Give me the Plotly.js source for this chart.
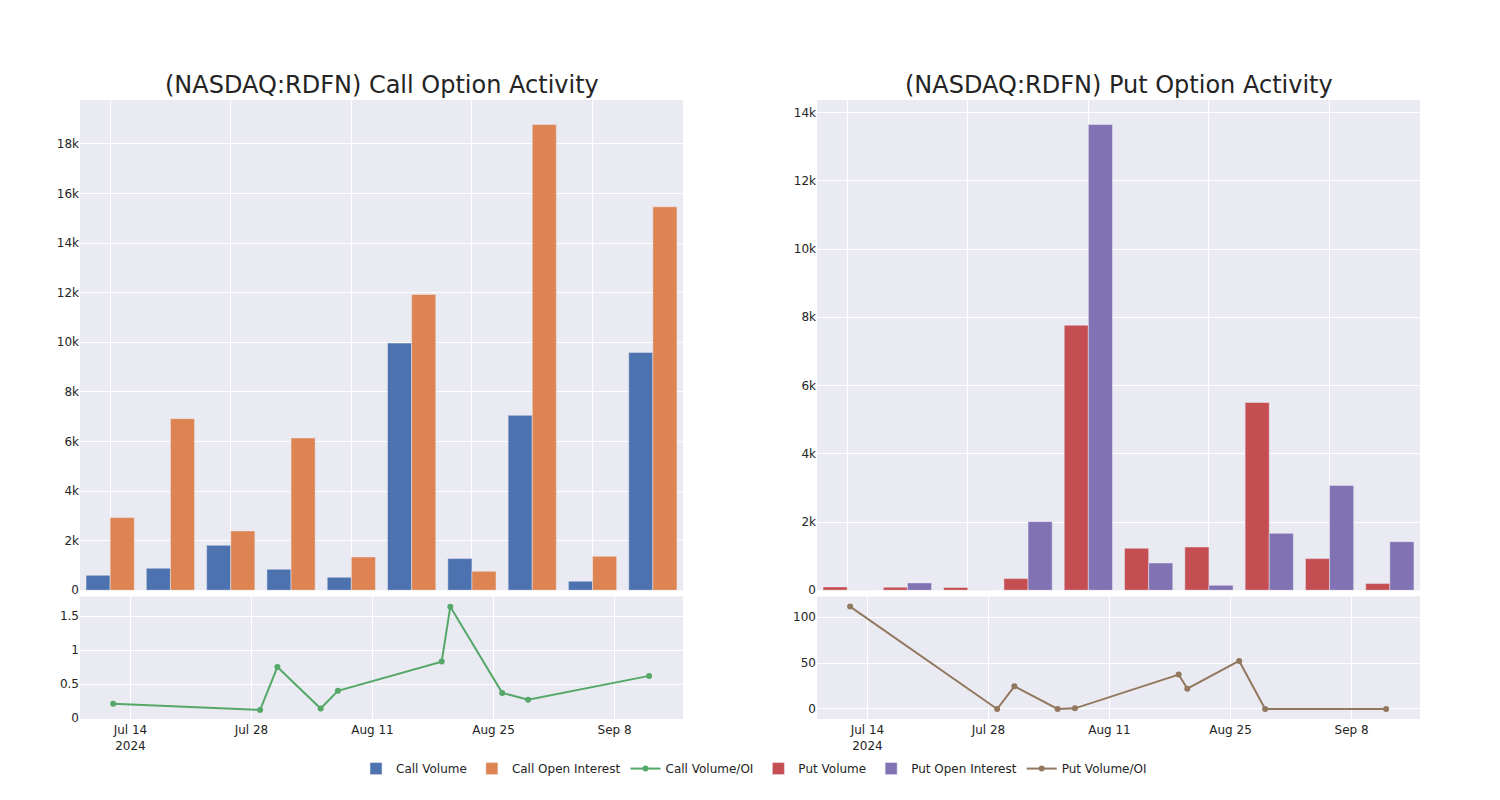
<!DOCTYPE html>
<html>
<head>
<meta charset="utf-8">
<script src="https://cdn.plot.ly/plotly-3.0.1.min.js"></script>
<style>html,body{margin:0;padding:0;background:#fff;}#chart{width:1500px;height:800px;}</style>
</head>
<body>
<div id="chart"></div>
<script>
// ---- data ----
const dates = ["2024-07-12","2024-07-29","2024-07-31","2024-08-05","2024-08-07","2024-08-19","2024-08-20","2024-08-26","2024-08-29","2024-09-12"];
const callVolume = [604, 887, 1813, 846, 524, 9966, 1276, 7052, 363, 9590];
const callOpenInterest = [2928, 6917, 2391, 6138, 1343, 11927, 766, 18777, 1370, 15460];
const callVolOI = [0.21, 0.12, 0.75, 0.14, 0.40, 0.83, 1.637, 0.37, 0.27, 0.62];
const putVolume = [98, 90, 80, 341, 7766, 1229, 1268, 5502, 927, 195];
const putOpenInterest = [1, 215, 0, 2010, 13649, 800, 146, 1668, 3073, 1424];
const putVolOI = [111.6, 0, 24.7, 0, 0.7, 37.5, 22.2, 52.4, 0, 0];
const titles = ["(NASDAQ:RDFN) Call Option Activity", "(NASDAQ:RDFN) Put Option Activity"];

// ---- style ----
const C = {
  blue: "rgb(76,114,176)", orange: "rgb(221,132,82)", green: "rgb(85,168,104)",
  red: "rgb(196,78,82)", purple: "rgb(129,114,179)", brown: "rgb(147,120,96)",
  bg: "rgb(234,234,242)", text: "rgb(36,36,36)"
};
const barLine = {color: C.bg, width: 0.5};

const traces = [
  {type: "bar", name: "Call Volume", x: dates, y: callVolume, xaxis: "x", yaxis: "y", marker: {color: C.blue, line: barLine}},
  {type: "bar", name: "Call Open Interest", x: dates, y: callOpenInterest, xaxis: "x", yaxis: "y", marker: {color: C.orange, line: barLine}},
  {type: "scatter", mode: "lines+markers", name: "Call Volume/OI", x: dates, y: callVolOI, xaxis: "x2", yaxis: "y2", line: {color: C.green, width: 2}, marker: {color: C.green, size: 6}},
  {type: "bar", name: "Put Volume", x: dates, y: putVolume, xaxis: "x3", yaxis: "y3", marker: {color: C.red, line: barLine}},
  {type: "bar", name: "Put Open Interest", x: dates, y: putOpenInterest, xaxis: "x3", yaxis: "y3", marker: {color: C.purple, line: barLine}},
  {type: "scatter", mode: "lines+markers", name: "Put Volume/OI", x: dates, y: putVolOI, xaxis: "x4", yaxis: "y4", line: {color: C.brown, width: 2}, marker: {color: C.brown, size: 6}}
];

const ax = {showgrid: true, gridcolor: "white", gridwidth: 1, zeroline: false, showline: false, ticks: "", linecolor: "white", tickfont: {size: 12, color: C.text}};
const catAx = Object.assign({}, ax, {type: "category", showticklabels: false, dtick: 2});
const dateRange = ["2024-07-08 04:00", "2024-09-15 22:00"];
const dateAx = Object.assign({}, ax, {type: "date", range: dateRange, ticklabelstandoff: 2});

const layout = {
  width: 1500, height: 800,
  font: {family: "DejaVu Sans, sans-serif", size: 12, color: C.text},
  paper_bgcolor: "white", plot_bgcolor: C.bg,
  margin: {l: 80, r: 80, t: 100, b: 81},
  barmode: "group", bargap: 0.2, bargroupgap: 0,
  showlegend: true,
  legend: {orientation: "h", x: 0.503, xanchor: "center", y: -0.1035, yanchor: "bottom", font: {size: 12, color: C.text}},
  xaxis: Object.assign({}, catAx, {domain: [0, 0.45], anchor: "y"}),
  yaxis: Object.assign({}, ax, {domain: [0.208, 1], anchor: "x"}),
  xaxis2: Object.assign({}, dateAx, {domain: [0, 0.45], anchor: "y2"}),
  yaxis2: Object.assign({}, ax, {domain: [0, 0.198], anchor: "x2", range: [-0.014, 1.788]}),
  xaxis3: Object.assign({}, catAx, {domain: [0.55, 1], anchor: "y3"}),
  yaxis3: Object.assign({}, ax, {domain: [0.208, 1], anchor: "x3"}),
  xaxis4: Object.assign({}, dateAx, {domain: [0.55, 1], anchor: "y4"}),
  yaxis4: Object.assign({}, ax, {domain: [0, 0.198], anchor: "x4", range: [-10.9, 122.7]}),
  annotations: [
    {text: titles[0], xref: "paper", yref: "paper", x: 0.225, y: 1, xanchor: "center", yanchor: "bottom", yshift: -1, showarrow: false, font: {size: 24, color: C.text}},
    {text: titles[1], xref: "paper", yref: "paper", x: 0.775, y: 1, xanchor: "center", yanchor: "bottom", yshift: -1, showarrow: false, font: {size: 24, color: C.text}}
  ]
};

Plotly.newPlot("chart", traces, layout, {displayModeBar: false, responsive: false});
</script>
</body>
</html>
